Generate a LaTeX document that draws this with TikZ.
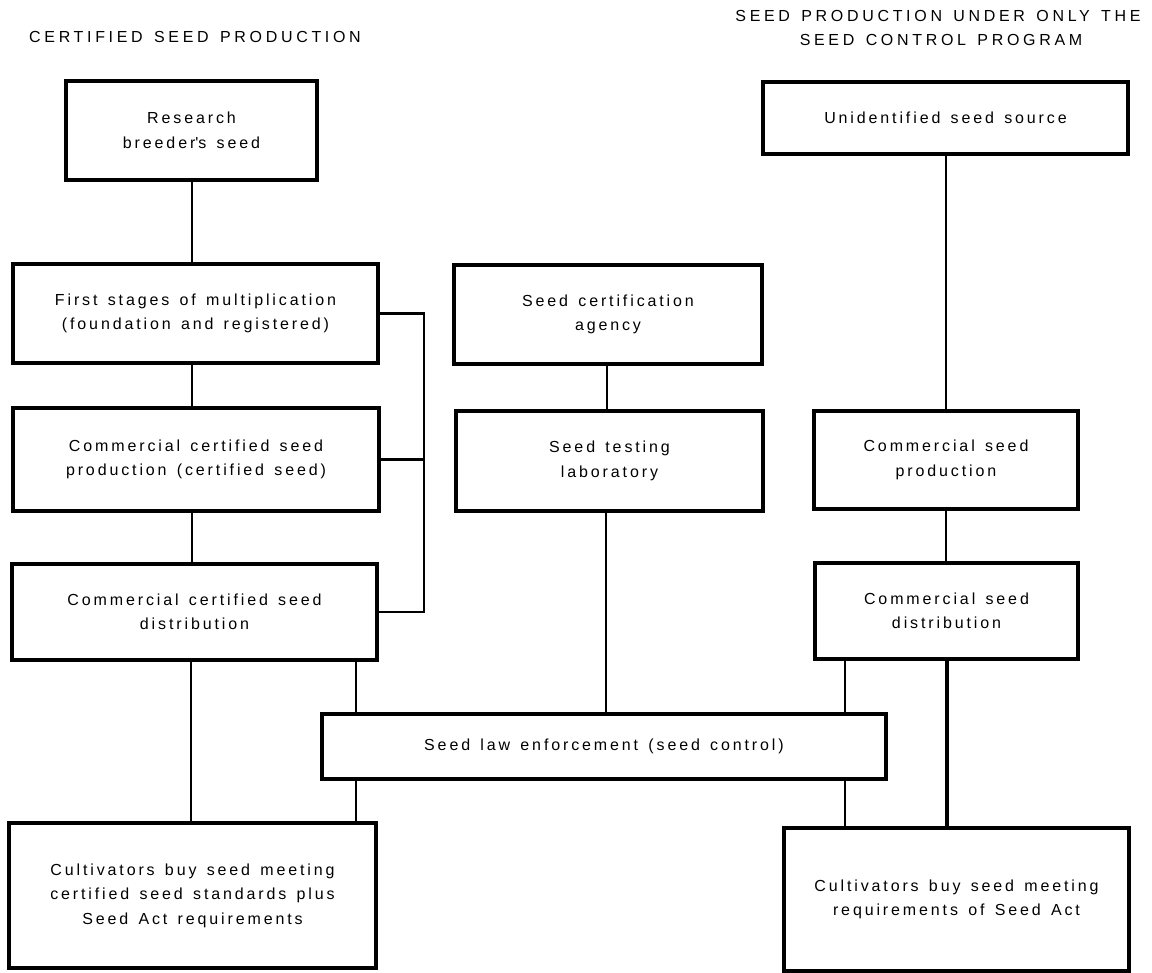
\documentclass[tikz,border=0pt]{standalone}
\usepackage{fontspec}
\setmainfont{Liberation Sans}[LetterSpace=18, WordSpace=1.4]
\newfontfamily\hdrfont{Liberation Sans}[LetterSpace=23, WordSpace=1.4]
\begin{document}
\begin{tikzpicture}[x=1pt,y=-1pt,
  box/.style={draw, line width=3.3pt, rectangle, inner sep=0pt, align=center,
    font=\fontsize{16}{24.5}\selectfont},
  conn/.style={line width=2.9pt},
  thin/.style={line width=2.4pt},
  thick/.style={line width=3.6pt},
  hdr/.style={inner sep=0pt, anchor=base, font=\hdrfont\fontsize{16}{20}\selectfont}]
\useasboundingbox (0,0) rectangle (1152,973);
\fill[white] (0,0) rectangle (1152,973);

% headers
\node[hdr] (h1) at (195,43) {CERTIFIED SEED PRODUCTION};
\node[hdr] (h2) at (938,22) {SEED PRODUCTION UNDER ONLY THE};
\node[hdr] (h3) at (941,46) {SEED CONTROL PROGRAM};

% left column
\node[box, minimum width=251pt, minimum height=99pt] (research) at (191.5,130.5) {Research\\breeder\textquotesingle s seed};
\node[box, minimum width=365pt, minimum height=99pt] (first) at (195.5,313.5) {First stages of multiplication\\(foundation and registered)};
\node[box, minimum width=366pt, minimum height=103pt] (prod) at (196,459.5) {Commercial certified seed\\production (certified seed)};
\node[box, minimum width=365pt, minimum height=96pt] (dist) at (194.5,612) {Commercial certified seed\\distribution};
\node[box, minimum width=367pt, minimum height=145pt] (cultL) at (192.5,895.5) {Cultivators buy seed meeting\\certified seed standards plus\\Seed Act requirements};

% middle column
\node[box, minimum width=308pt, minimum height=99pt] (agency) at (608,314.5) {Seed certification\\agency};
\node[box, minimum width=307pt, minimum height=100pt] (lab) at (609.5,461) {Seed testing\\laboratory};
\node[box, minimum width=564pt, minimum height=65pt] (law) at (604,746.5) {Seed law enforcement (seed control)};

% right column
\node[box, minimum width=365pt, minimum height=72pt] (unid) at (945.5,118) {Unidentified seed source};
\node[box, minimum width=264pt, minimum height=98pt] (cprod) at (946,460) {Commercial seed\\production};
\node[box, minimum width=263pt, minimum height=96pt] (cdist) at (946.5,611) {Commercial seed\\distribution};
\node[box, minimum width=345pt, minimum height=143pt] (cultR) at (956.5,899.5) {Cultivators buy seed meeting\\requirements of Seed Act};

% connectors left
\draw[conn] (192,0 |- research.south) -- (192,0 |- first.north);
\draw[conn] (192,0 |- first.south) -- (192,0 |- prod.north);
\draw[conn] (192,0 |- prod.south) -- (192,0 |- dist.north);
\draw[thin] (191,0 |- dist.south) -- (191,0 |- cultL.north);
\draw[conn] (356,0 |- dist.south) -- (356,0 |- law.north);
\draw[conn] (356,0 |- law.south) -- (356,0 |- cultL.north);

% bracket
\draw[conn] (first.east) -- (424,0 |- first.east) -- (424,0 |- dist.east) -- (dist.east);
\draw[conn] (prod.east) -- (424,0 |- prod.east);

% middle
\draw[conn] (607,0 |- agency.south) -- (607,0 |- lab.north);
\draw[thin] (606,0 |- lab.south) -- (606,0 |- law.north);

% right
\draw[thin] (946,0 |- unid.south) -- (946,0 |- cprod.north);
\draw[thin] (946,0 |- cprod.south) -- (946,0 |- cdist.north);
\draw[thick] (947,0 |- cdist.south) -- (947,0 |- cultR.north);
\draw[conn] (845,0 |- cdist.south) -- (845,0 |- law.north);
\draw[conn] (845,0 |- law.south) -- (845,0 |- cultR.north);
\end{tikzpicture}
\end{document}
